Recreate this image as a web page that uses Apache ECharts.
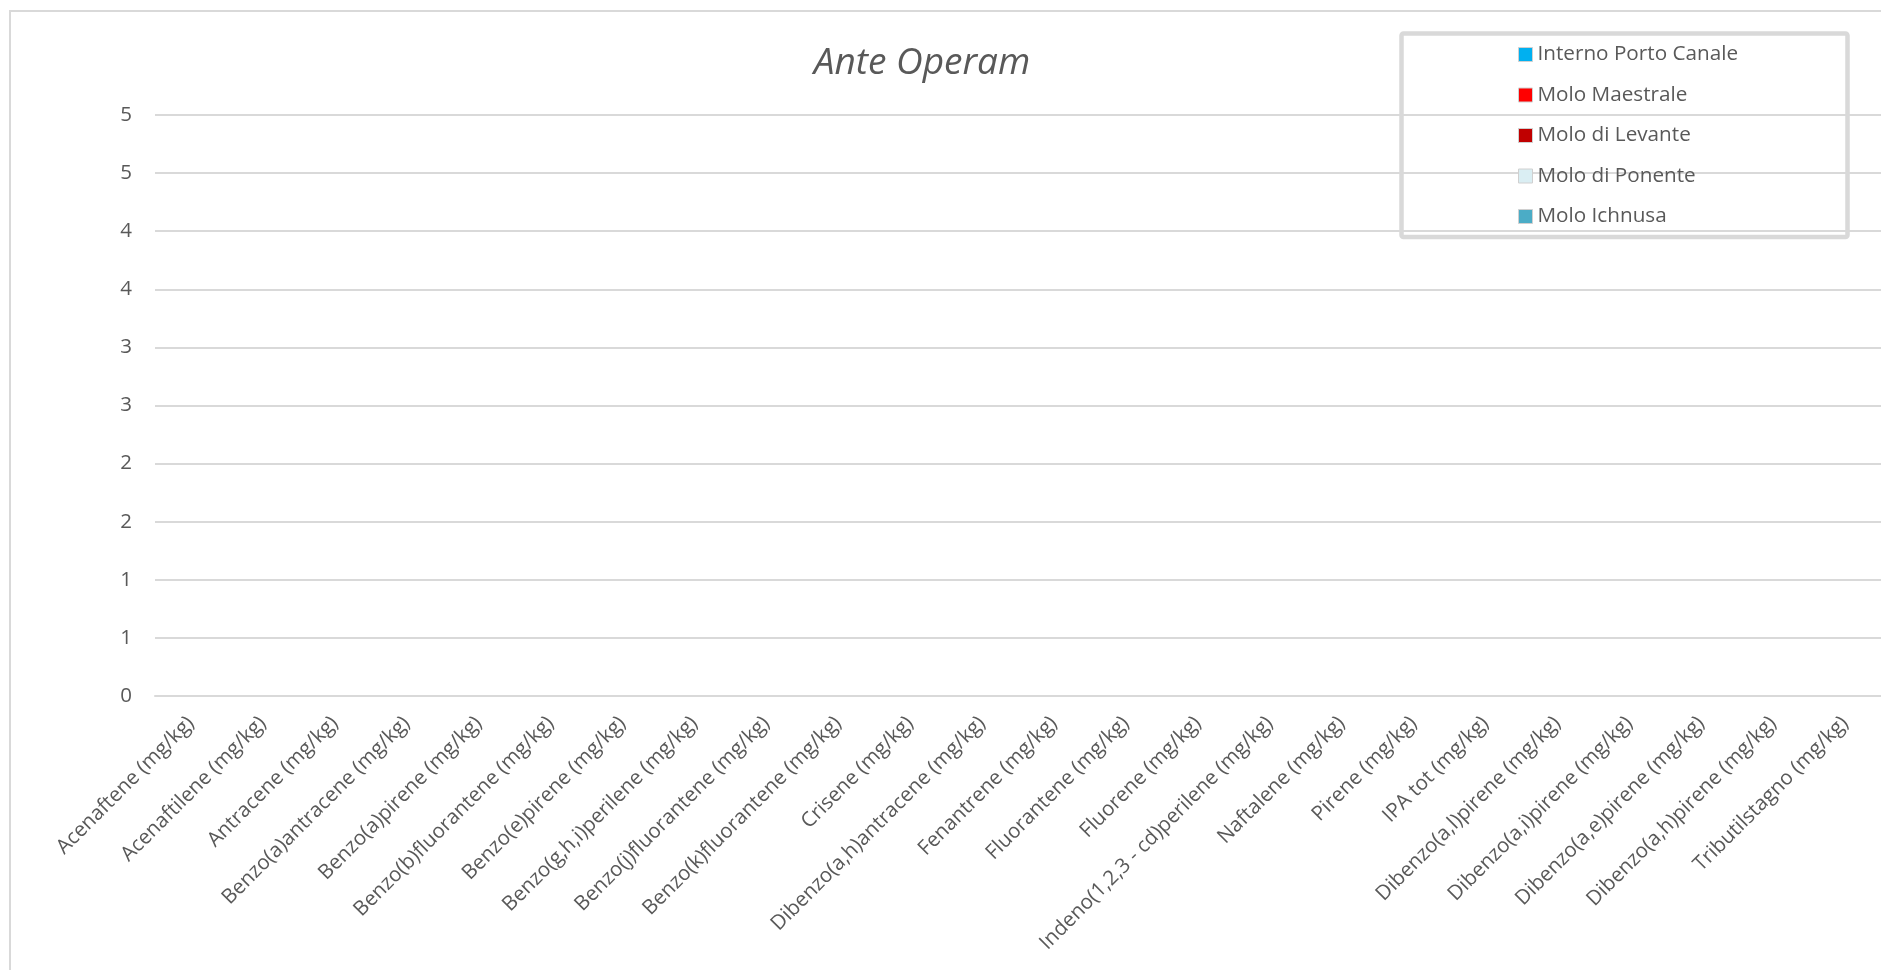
<!DOCTYPE html>
<html>
<head>
<meta charset="utf-8">
<script src="https://cdn.jsdelivr.net/npm/echarts@6/dist/echarts.min.js"></script>
<style>
  html, body { margin: 0; padding: 0; background: #ffffff; }
  #chart { width: 1881px; height: 970px; }
</style>
</head>
<body>
<div id="chart"></div>
<script>
// Analytes measured in the sediment samples (x categories)
const categories = [
  'Acenaftene (mg/kg)', 'Acenaftilene (mg/kg)', 'Antracene (mg/kg)',
  'Benzo(a)antracene (mg/kg)', 'Benzo(a)pirene (mg/kg)', 'Benzo(b)fluorantene (mg/kg)',
  'Benzo(e)pirene (mg/kg)', 'Benzo(g,h,i)perilene (mg/kg)', 'Benzo(j)fluorantene (mg/kg)',
  'Benzo(k)fluorantene (mg/kg)', 'Crisene (mg/kg)', 'Dibenzo(a,h)antracene (mg/kg)',
  'Fenantrene (mg/kg)', 'Fluorantene (mg/kg)', 'Fluorene (mg/kg)',
  'Indeno(1,2,3 - cd)perilene (mg/kg)', 'Naftalene (mg/kg)', 'Pirene (mg/kg)',
  'IPA tot (mg/kg)', 'Dibenzo(a,l)pirene (mg/kg)', 'Dibenzo(a,i)pirene (mg/kg)',
  'Dibenzo(a,e)pirene (mg/kg)', 'Dibenzo(a,h)pirene (mg/kg)', 'Tributilstagno (mg/kg)'
];

// Sampling stations (no values reported for the ante operam campaign)
const seriesNames = ['Interno Porto Canale', 'Molo Maestrale', 'Molo di Levante', 'Molo di Ponente', 'Molo Ichnusa'];
const seriesColors = ['#00B0F0', '#FF0000', '#C00000', '#DAEEF3', '#4BACC6'];
const internoPortoCanale = [];
const moloMaestrale = [];
const moloDiLevante = [];
const moloDiPonente = [];
const moloIchnusa = [];
const seriesValues = [internoPortoCanale, moloMaestrale, moloDiLevante, moloDiPonente, moloIchnusa];

// Value axis ticks (0 to 5 every 0.5, shown rounded to whole numbers)
const yMin = 0;
const yMax = 5;
const yInterval = 0.5;
const yTickLabels = ['0', '1', '1', '2', '2', '3', '3', '4', '4', '5', '5'];

const textColor = '#595959';
const gridColor = '#d9d9d9';
const fontFamily = '"Open Sans", "Noto Sans", sans-serif';

const chart = echarts.init(document.getElementById('chart'), null, { renderer: 'canvas' });

chart.setOption({
  backgroundColor: '#ffffff',
  animation: false,
  title: {
    text: 'Ante Operam',
    left: 917,
    top: 40,
    textAlign: 'center',
    textStyle: {
      fontFamily: fontFamily,
      fontStyle: 'italic',
      fontWeight: 'normal',
      fontSize: 37,
      color: textColor
    }
  },
  legend: {
    orient: 'vertical',
    left: 1518,
    top: 44,
    padding: 0,
    itemWidth: 14,
    itemHeight: 14,
    itemGap: 19.5,
    icon: 'rect',
    selectedMode: false,
    itemStyle: { borderColor: '#d0d0d0', borderWidth: 1 },
    textStyle: {
      fontFamily: fontFamily,
      fontSize: 20.7,
      lineHeight: 21,
      color: textColor
    },
    data: seriesNames
  },
  grid: {
    left: 155,
    top: 115,
    width: 1745,
    height: 581,
    containLabel: false
  },
  xAxis: {
    type: 'category',
    data: categories,
    axisLine: { show: true, lineStyle: { color: gridColor, width: 2 } },
    axisTick: { show: false },
    axisLabel: {
      interval: 0,
      rotate: 45,
      margin: 24,
      fontFamily: fontFamily,
      fontSize: 20.5,
      color: textColor
    },
    splitLine: { show: false }
  },
  yAxis: {
    type: 'value',
    min: yMin,
    max: yMax,
    interval: yInterval,
    axisLine: { show: false },
    axisTick: { show: false },
    axisLabel: {
      margin: 23,
      fontFamily: fontFamily,
      fontSize: 20.5,
      color: textColor,
      formatter: function (value, index) { return yTickLabels[index]; }
    },
    splitLine: { show: true, lineStyle: { color: gridColor, width: 2 } }
  },
  graphic: [
    {
      // chart area frame
      type: 'rect',
      silent: true,
      shape: { x: 10, y: 11, width: 2000, height: 2000 },
      style: { fill: 'none', stroke: gridColor, lineWidth: 2 },
      z: -1
    },
    {
      // legend frame
      type: 'rect',
      silent: true,
      shape: { x: 1401.5, y: 33.5, width: 446, height: 203.5, r: 2 },
      style: { fill: '#ffffff', stroke: gridColor, lineWidth: 4.5 },
      z: 0
    }
  ],
  series: seriesNames.map(function (name, i) {
    return {
      name: name,
      type: 'bar',
      data: seriesValues[i],
      itemStyle: { color: seriesColors[i] }
    };
  })
});
</script>
</body>
</html>
